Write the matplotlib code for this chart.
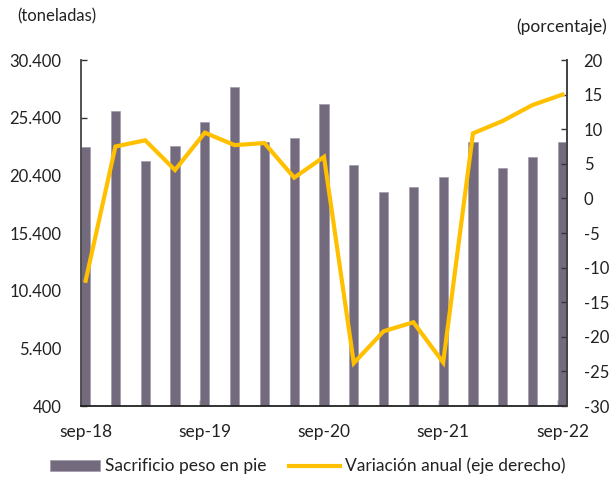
import matplotlib
matplotlib.use("Agg")
import matplotlib.pyplot as plt
from matplotlib.ticker import FuncFormatter

plt.rcParams['font.family'] = ['Lato', 'DejaVu Sans']
plt.rcParams['axes.unicode_minus'] = False

# quarterly data, sep-18 .. sep-22
periods = ['sep-18', 'dic-18', 'mar-19', 'jun-19', 'sep-19', 'dic-19', 'mar-20', 'jun-20',
           'sep-20', 'dic-20', 'mar-21', 'jun-21', 'sep-21', 'dic-21', 'mar-22', 'jun-22', 'sep-22']
sacrificio = [22820, 25990, 21630, 22930, 25010, 28020, 23280, 23600,
              26545, 21310, 18920, 19380, 20245, 23250, 21000, 21950, 23250]
variacion = [-11.9, 7.5, 8.4, 4.1, 9.5, 7.7, 8.0, 3.0,
             6.0, -23.8, -19.2, -17.9, -23.7, 9.4, 11.2, 13.5, 15.0]
xlabels = ['sep-18', 'sep-19', 'sep-20', 'sep-21', 'sep-22']

bar_color = '#736a7e'
line_color = '#ffc000'
txt = '#222222'

fig = plt.figure(figsize=(6.09, 4.79), dpi=100)
ax = fig.add_axes([0.133, 0.1524, 0.798, 0.7223])
x = list(range(len(periods)))
bw = 0.31
ax.bar(x, sacrificio, width=bw, color=bar_color, edgecolor='#a29bab', linewidth=0.5,
       label='Sacrificio peso en pie', zorder=2)
ax.set_xlim(-bw / 2, len(periods) - 1 + bw / 2)
ax.set_ylim(400, 30400)
ax.set_yticks(range(400, 30401, 5000))
ax.yaxis.set_major_formatter(FuncFormatter(lambda v, p: f'{int(v):,}'.replace(',', '.')))

# labels centred on bars, tick marks at left edge of the bar
lab_pos = [periods.index(l) for l in xlabels]
ax.set_xticks(lab_pos)
ax.set_xticklabels(xlabels)
ax.set_xticks([p - bw / 2 + 0.01 for p in lab_pos], minor=True)
ax.tick_params(axis='x', which='major', length=0, pad=13, labelsize=12.5, labelcolor=txt)
ax.tick_params(axis='x', which='minor', direction='in', length=4.5, width=1, color='#333333')
ax.tick_params(axis='y', direction='in', length=4.5, width=1, color='#333333',
               labelsize=12, labelcolor=txt, pad=14)

ax2 = ax.twinx()
ax2.plot(x, variacion, color=line_color, linewidth=3, solid_joinstyle='miter',
         label='Variación anual (eje derecho)', zorder=3)
ax2.set_ylim(-30, 20)
ax2.set_yticks(range(-30, 21, 5))
ax2.tick_params(axis='y', direction='in', length=4.5, width=1, color='#333333',
                labelsize=12, labelcolor=txt, pad=12)

for a in (ax, ax2):
    a.spines['top'].set_visible(False)
    a.spines['left'].set_color('#444444')
    a.spines['right'].set_color('#444444')
    a.spines['bottom'].set_color('#222222')
    for s in ('left', 'right', 'bottom'):
        a.spines[s].set_linewidth(1.3)
ax2.spines['left'].set_visible(False)
ax2.spines['bottom'].set_visible(False)

fig.text(0.028, 0.965, '(toneladas)', fontsize=12, color=txt, va='center', ha='left')
fig.text(0.997, 0.944, '(porcentaje)', fontsize=12.5, color=txt, va='center', ha='right')

h1, l1 = ax.get_legend_handles_labels()
h2, l2 = ax2.get_legend_handles_labels()
fig.legend(h1 + h2, l1 + l2, loc='center', bbox_to_anchor=(0.505, 0.027), ncol=2,
           frameon=False, fontsize=12.5, handlelength=2.9, handleheight=0.6,
           columnspacing=1.3, handletextpad=0.3, labelcolor=txt)

fig.savefig('out.png', dpi=100)
